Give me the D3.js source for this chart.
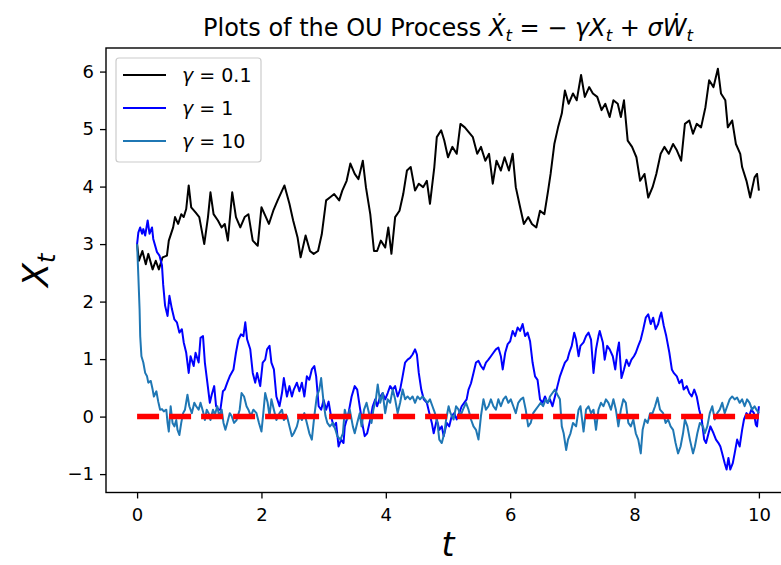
<!DOCTYPE html>
<html>
<head>
<meta charset="utf-8">
<script src="https://cdn.jsdelivr.net/npm/d3@7"></script>
<style>
  html, body { margin: 0; padding: 0; background: #fff; }
  text { font-family: "DejaVu Sans", sans-serif; }
</style>
</head>
<body>
<svg id="chart" width="781" height="565"></svg>
<script>
// Sample paths of the Ornstein–Uhlenbeck process, one per damping rate, as [t, X_t].
const pathGamma01 = [
  [0,3.0],[0.03,2.71],[0.085,2.88],[0.14,2.65],[0.18,2.83],[0.25,2.56],[0.3,2.71],[0.35,2.56],[0.41,2.77],[0.48,2.8],
  [0.51,3.06],[0.58,3.29],[0.61,3.47],[0.66,3.35],[0.71,3.52],[0.75,3.47],[0.79,3.61],[0.83,4.02],[0.87,3.64],[0.94,3.55],
  [1.0,3.47],[1.08,3.0],[1.14,3.47],[1.18,3.9],[1.23,3.52],[1.3,3.41],[1.36,3.29],[1.41,3.35],[1.46,3.06],[1.53,3.9],
  [1.59,3.47],[1.66,3.29],[1.73,3.47],[1.79,3.52],[1.86,3.06],[1.94,2.97],[2.0,3.64],[2.05,3.52],[2.12,3.35],[2.19,3.58],
  [2.26,3.76],[2.37,4.02],[2.45,3.7],[2.51,3.41],[2.58,3.12],[2.63,2.77],[2.71,3.15],[2.78,2.88],[2.84,2.83],[2.91,2.88],
  [2.97,3.17],[3.04,3.76],[3.1,3.81],[3.17,3.87],[3.25,3.76],[3.3,3.93],[3.37,4.1],[3.43,4.4],[3.5,4.22],[3.56,4.13],
  [3.63,4.45],[3.68,3.99],[3.75,3.52],[3.81,2.88],[3.86,2.88],[3.92,3.06],[3.99,2.94],[4.04,3.29],[4.09,2.83],[4.15,3.47],
  [4.22,3.58],[4.28,3.87],[4.34,4.28],[4.4,4.34],[4.47,3.93],[4.53,4.05],[4.6,3.99],[4.66,4.1],[4.71,3.7],[4.78,4.34],
  [4.82,4.86],[4.89,4.98],[4.94,4.8],[5.0,4.51],[5.07,4.69],[5.14,4.57],[5.2,5.09],[5.27,5.03],[5.33,4.95],[5.4,4.86],
  [5.47,4.57],[5.53,4.69],[5.6,4.45],[5.66,4.57],[5.72,4.05],[5.78,4.45],[5.85,4.28],[5.91,4.51],[5.98,4.28],[6.04,4.57],
  [6.09,3.99],[6.16,3.64],[6.22,3.35],[6.29,3.47],[6.35,3.35],[6.42,3.29],[6.48,3.58],[6.55,3.52],[6.61,3.93],[6.65,4.22],
  [6.71,4.74],[6.77,5.03],[6.83,5.27],[6.88,5.67],[6.94,5.44],[7.01,5.62],[7.07,5.5],[7.14,5.94],[7.2,5.56],[7.27,5.73],
  [7.33,5.62],[7.4,5.56],[7.47,5.33],[7.53,5.44],[7.6,5.21],[7.66,5.5],[7.73,5.44],[7.78,5.21],[7.83,5.5],[7.89,4.8],
  [7.96,4.69],[8.03,4.51],[8.09,4.1],[8.16,4.22],[8.22,3.81],[8.29,3.99],[8.35,4.22],[8.42,4.57],[8.48,4.69],[8.55,4.57],
  [8.62,4.74],[8.68,4.63],[8.75,4.45],[8.81,5.09],[8.88,5.15],[8.94,4.92],[9.0,5.09],[9.07,5.03],[9.14,5.38],[9.2,5.85],
  [9.27,5.73],[9.34,6.05],[9.39,5.62],[9.46,5.5],[9.5,5.03],[9.57,5.15],[9.63,4.74],[9.7,4.57],[9.73,4.34],[9.8,4.1],
  [9.86,3.81],[9.93,4.16],[9.97,4.22],[10.0,3.93]
];

const pathGamma1 = [
  [0,3.0],[0.02,3.2],[0.05,3.29],[0.08,3.18],[0.1,3.26],[0.13,3.15],[0.17,3.41],[0.2,3.18],[0.24,3.29],[0.26,3.09],
  [0.32,2.86],[0.36,2.8],[0.4,2.63],[0.42,2.29],[0.45,1.93],[0.49,1.75],[0.52,2.1],[0.56,1.87],[0.6,1.69],[0.64,1.64],
  [0.68,1.46],[0.72,1.52],[0.75,1.29],[0.79,1.11],[0.83,0.76],[0.86,1.05],[0.91,0.88],[0.94,1.11],[0.99,0.94],[1.02,1.37],
  [1.06,1.4],[1.09,0.94],[1.13,0.59],[1.17,0.24],[1.2,0.38],[1.24,0.53],[1.27,0.18],[1.31,0.12],[1.34,0.12],[1.38,0.44],
  [1.41,0.47],[1.45,0.59],[1.49,0.7],[1.55,0.82],[1.59,1.11],[1.63,1.34],[1.67,1.43],[1.71,1.4],[1.74,1.64],[1.77,1.34],
  [1.82,1.17],[1.86,0.76],[1.9,0.59],[1.93,0.76],[1.98,0.53],[2.02,0.94],[2.06,0.99],[2.09,1.17],[2.13,1.23],[2.16,0.94],
  [2.2,0.82],[2.24,0.35],[2.29,0.18],[2.33,0.41],[2.36,0.67],[2.41,0.35],[2.45,0.53],[2.49,0.35],[2.52,0.47],[2.57,0.59],
  [2.61,0.44],[2.65,0.59],[2.69,0.35],[2.73,0.7],[2.77,0.64],[2.81,0.82],[2.85,0.88],[2.88,0.7],[2.92,0.18],[2.96,0.12],
  [3.0,0.29],[3.04,0.12],[3.08,0.26],[3.12,0.0],[3.16,-0.17],[3.2,-0.11],[3.24,-0.52],[3.28,-0.4],[3.32,-0.46],[3.34,-0.17],
  [3.4,0.06],[3.45,0.35],[3.5,0.53],[3.54,0.47],[3.58,0.18],[3.63,-0.17],[3.66,-0.34],[3.7,-0.29],[3.75,-0.05],[3.79,0.18],
  [3.83,0.3],[3.86,0.18],[3.91,0.35],[3.95,0.41],[3.99,0.3],[4.03,0.41],[4.07,0.53],[4.11,0.47],[4.15,0.53],[4.19,0.35],
  [4.23,0.47],[4.27,0.7],[4.31,0.94],[4.35,0.99],[4.39,1.02],[4.43,1.08],[4.47,1.17],[4.5,1.08],[4.53,0.76],[4.57,0.47],
  [4.61,0.3],[4.66,0.24],[4.7,0.06],[4.74,-0.11],[4.77,-0.29],[4.82,-0.05],[4.86,-0.23],[4.9,-0.17],[4.93,-0.34],[4.98,-0.11],
  [5.02,-0.17],[5.06,0.01],[5.1,0.06],[5.14,-0.05],[5.18,0.06],[5.22,0.18],[5.26,0.24],[5.3,0.3],[5.33,0.47],[5.37,0.58],
  [5.41,0.76],[5.45,0.94],[5.49,0.97],[5.53,0.88],[5.57,0.82],[5.61,0.94],[5.65,0.99],[5.69,1.05],[5.73,1.11],[5.77,1.17],
  [5.81,1.2],[5.85,1.05],[5.88,0.82],[5.92,1.11],[5.96,1.26],[6.0,1.31],[6.04,1.49],[6.08,1.4],[6.12,1.55],[6.16,1.49],
  [6.2,1.61],[6.24,1.4],[6.28,1.46],[6.32,1.31],[6.36,0.94],[6.4,0.7],[6.44,0.64],[6.48,0.3],[6.52,0.24],[6.56,0.35],
  [6.6,0.24],[6.64,0.3],[6.68,0.18],[6.72,0.35],[6.76,0.53],[6.8,0.7],[6.84,0.82],[6.88,0.94],[6.92,0.99],[6.95,1.11],
  [6.99,1.23],[7.03,1.46],[7.06,1.34],[7.1,1.05],[7.13,1.23],[7.18,1.29],[7.22,1.4],[7.26,1.46],[7.3,1.34],[7.34,0.76],
  [7.38,1.17],[7.42,1.4],[7.44,1.49],[7.49,1.29],[7.52,0.99],[7.56,1.23],[7.6,1.17],[7.65,1.05],[7.69,0.82],[7.72,1.11],
  [7.75,1.29],[7.79,0.67],[7.83,0.82],[7.87,0.99],[7.91,0.88],[7.95,0.99],[7.99,1.05],[8.02,1.11],[8.06,1.23],[8.1,1.34],
  [8.14,1.52],[8.18,1.72],[8.22,1.78],[8.26,1.61],[8.3,1.72],[8.34,1.52],[8.38,1.61],[8.41,1.75],[8.43,1.81],[8.47,1.58],
  [8.51,1.4],[8.56,1.11],[8.6,0.82],[8.63,0.76],[8.68,0.7],[8.72,0.58],[8.76,0.64],[8.79,0.47],[8.84,0.53],[8.88,0.41],
  [8.92,0.35],[8.96,0.47],[9.0,0.35],[9.04,0.12],[9.08,-0.05],[9.12,-0.4],[9.15,-0.46],[9.19,-0.29],[9.22,-0.17],[9.27,-0.29],
  [9.31,-0.4],[9.35,-0.46],[9.38,-0.52],[9.41,-0.64],[9.45,-0.81],[9.48,-0.92],[9.51,-0.72],[9.54,-0.92],[9.58,-0.81],[9.61,-0.64],
  [9.65,-0.4],[9.69,-0.52],[9.73,-0.23],[9.76,-0.05],[9.8,0.06],[9.84,0.01],[9.88,0.12],[9.92,0.06],[9.95,-0.14],[9.97,-0.17],
  [10.0,0.18]
];

const pathGamma10 = [
  [0,3.0],[0.02,2.45],[0.04,1.87],[0.05,1.4],[0.07,1.05],[0.1,0.94],[0.13,0.76],[0.16,0.7],[0.18,0.59],[0.22,0.62],
  [0.25,0.47],[0.27,0.35],[0.31,0.44],[0.34,0.26],[0.37,0.12],[0.4,0.13],[0.43,0.09],[0.47,0.12],[0.49,-0.11],[0.51,-0.26],
  [0.54,0.18],[0.57,-0.11],[0.6,-0.17],[0.63,-0.06],[0.65,-0.23],[0.68,-0.32],[0.71,-0.11],[0.74,0.06],[0.77,0.12],[0.81,0.38],
  [0.84,0.18],[0.88,0.06],[0.92,0.24],[0.95,0.18],[0.99,0.12],[1.02,0.24],[1.06,0.09],[1.09,-0.06],[1.12,0.12],[1.15,0.06],
  [1.18,-0.06],[1.22,0.12],[1.25,0.03],[1.29,0.18],[1.32,0.01],[1.36,0.12],[1.39,-0.11],[1.42,-0.23],[1.45,-0.11],[1.49,0.06],
  [1.52,0.01],[1.56,-0.11],[1.6,-0.06],[1.65,0.12],[1.68,0.41],[1.72,0.35],[1.76,0.18],[1.79,0.12],[1.83,0.01],[1.87,0.12],
  [1.92,0.06],[1.96,-0.11],[2.0,-0.26],[2.03,0.06],[2.06,0.41],[2.1,0.24],[2.13,0.01],[2.16,0.3],[2.2,0.12],[2.24,-0.06],
  [2.29,0.06],[2.33,0.12],[2.36,-0.06],[2.41,0.01],[2.45,-0.17],[2.49,-0.34],[2.52,-0.29],[2.57,-0.17],[2.61,0.01],[2.65,-0.06],
  [2.69,0.06],[2.73,-0.11],[2.77,-0.29],[2.81,-0.4],[2.85,0.01],[2.89,0.35],[2.93,0.47],[2.96,0.67],[3.0,0.24],[3.03,0.01],
  [3.06,-0.11],[3.1,-0.17],[3.15,-0.11],[3.19,-0.23],[3.22,-0.34],[3.27,-0.4],[3.31,-0.29],[3.34,0.12],[3.38,-0.05],[3.42,0.12],
  [3.47,-0.17],[3.5,-0.29],[3.54,-0.11],[3.58,0.06],[3.61,-0.17],[3.65,0.12],[3.69,0.24],[3.73,0.06],[3.77,-0.11],[3.8,0.12],
  [3.84,0.3],[3.87,0.56],[3.91,0.24],[3.95,0.41],[3.99,0.06],[4.03,0.3],[4.07,0.24],[4.11,0.47],[4.15,0.3],[4.19,0.06],
  [4.23,0.24],[4.27,0.47],[4.31,0.3],[4.35,0.35],[4.39,0.3],[4.43,0.35],[4.47,0.24],[4.51,0.35],[4.55,0.3],[4.59,0.35],
  [4.63,0.3],[4.67,0.24],[4.71,0.3],[4.75,0.18],[4.79,0.06],[4.83,-0.11],[4.86,-0.4],[4.9,-0.46],[4.94,-0.29],[4.97,-0.05],
  [5.01,0.18],[5.04,0.06],[5.09,-0.05],[5.13,0.18],[5.17,0.12],[5.2,0.01],[5.24,0.12],[5.29,0.24],[5.33,0.12],[5.37,-0.05],
  [5.41,-0.17],[5.45,-0.23],[5.49,-0.4],[5.53,0.01],[5.57,0.3],[5.61,0.12],[5.65,0.18],[5.69,0.3],[5.73,0.18],[5.77,0.12],
  [5.81,0.3],[5.85,0.18],[5.89,0.3],[5.93,0.35],[5.97,0.24],[6.01,0.3],[6.05,0.18],[6.09,0.06],[6.13,0.24],[6.17,0.3],
  [6.21,0.33],[6.25,0.12],[6.29,-0.17],[6.33,-0.11],[6.37,0.06],[6.41,0.12],[6.45,0.18],[6.49,0.24],[6.53,0.18],[6.57,0.3],
  [6.61,0.24],[6.64,0.35],[6.68,0.41],[6.72,0.47],[6.76,0.38],[6.8,0.3],[6.83,-0.17],[6.86,-0.29],[6.9,-0.58],[6.93,-0.4],
  [6.97,-0.29],[7.01,-0.11],[7.06,-0.17],[7.1,0.12],[7.13,0.18],[7.18,-0.26],[7.22,0.12],[7.26,0.18],[7.3,0.06],[7.34,0.12],
  [7.38,-0.23],[7.42,0.12],[7.46,0.24],[7.5,0.18],[7.54,0.3],[7.58,0.24],[7.62,0.12],[7.66,0.3],[7.7,0.12],[7.74,-0.17],
  [7.78,0.12],[7.82,0.3],[7.86,0.24],[7.9,-0.11],[7.94,-0.17],[7.98,-0.05],[8.02,-0.29],[8.06,-0.4],[8.1,-0.64],[8.13,-0.23],
  [8.17,-0.05],[8.21,-0.11],[8.25,0.06],[8.29,0.06],[8.33,0.18],[8.37,0.33],[8.41,0.12],[8.46,0.06],[8.5,-0.11],[8.54,-0.05],
  [8.58,-0.17],[8.62,-0.23],[8.66,-0.46],[8.7,-0.64],[8.74,-0.52],[8.78,-0.29],[8.81,-0.05],[8.85,-0.17],[8.89,-0.4],[8.94,-0.64],
  [8.97,-0.52],[9.01,-0.29],[9.05,-0.11],[9.1,-0.17],[9.13,-0.29],[9.17,-0.17],[9.21,0.06],[9.25,0.18],[9.29,-0.05],[9.33,0.06],
  [9.37,0.12],[9.41,0.24],[9.45,0.06],[9.49,0.18],[9.53,0.3],[9.57,0.35],[9.61,0.3],[9.65,0.33],[9.69,0.24],[9.73,0.3],
  [9.77,0.18],[9.81,0.3],[9.85,0.24],[9.89,0.12],[9.93,0.18],[9.96,0.12],[10.0,0.06]
];

// Long-run mean of every path.
const meanLine = [[0, 0], [10, 0]];

const seriesNames = ["γ = 0.1", "γ = 1", "γ = 10"];
const seriesColors = ["#000000", "#0000ff", "#1f77b4"];
const xTicks = [0, 2, 4, 6, 8, 10];
const yTicks = [-1, 0, 1, 2, 3, 4, 5, 6];

const svg = d3.select("#chart");
const box = { left: 106, right: 790, top: 48, bottom: 492.5 };

const x = d3.scaleLinear().domain([-0.5, 10.5]).range([box.left, box.right]);
const y = d3.scaleLinear().domain([-1.32, 6.41]).range([box.bottom, box.top]);

const line = d3.line().x(d => x(d[0])).y(d => y(d[1]));

const plot = svg.append("g");
[pathGamma01, pathGamma1, pathGamma10].forEach((path, i) => {
  plot.append("path")
    .datum(path)
    .attr("d", line)
    .attr("fill", "none")
    .attr("stroke", seriesColors[i])
    .attr("stroke-width", 2)
    .attr("stroke-linejoin", "round");
});

plot.append("path")
  .datum(meanLine)
  .attr("d", line)
  .attr("fill", "none")
  .attr("stroke", "#ff0000")
  .attr("stroke-width", 5.5)
  .attr("stroke-dasharray", "22,10");

// Axes
const tickFont = "18px";
const xAxis = d3.axisBottom(x).tickValues(xTicks).tickSize(6).tickPadding(10)
  .tickFormat(d => d3.format("d")(d));
const yAxis = d3.axisLeft(y).tickValues(yTicks).tickSize(6).tickPadding(6)
  .tickFormat(d => d < 0 ? "\u2212" + Math.abs(d) : String(d));

const gx = svg.append("g").attr("transform", `translate(0,${box.bottom})`).call(xAxis);
const gy = svg.append("g").attr("transform", `translate(${box.left},0)`).call(yAxis);
[gx, gy].forEach(g => {
  g.select(".domain").remove();
  g.selectAll(".tick line").attr("stroke", "#000").attr("stroke-width", 1.3);
  g.selectAll(".tick text").attr("fill", "#000").style("font-size", tickFont)
    .style("font-family", "'DejaVu Sans', sans-serif");
});

// Frame
svg.append("rect")
  .attr("x", box.left).attr("y", box.top)
  .attr("width", box.right - box.left).attr("height", box.bottom - box.top)
  .attr("fill", "none").attr("stroke", "#000").attr("stroke-width", 1.4);

// Title with the SDE
const subSize = "16.5px";
const title = svg.append("text")
  .attr("x", (box.left + box.right) / 2).attr("y", 36)
  .attr("text-anchor", "middle")
  .style("font-size", "24px");
title.append("tspan").text("Plots of the OU Process ");
title.append("tspan").style("font-style", "italic").text("\u1E8A");
title.append("tspan").style("font-style", "italic").style("font-size", subSize).attr("dy", 5).text("t");
title.append("tspan").attr("dy", -5).text(" = \u2212 ");
title.append("tspan").style("font-style", "italic").text("γX");
title.append("tspan").style("font-style", "italic").style("font-size", subSize).attr("dy", 5).text("t");
title.append("tspan").attr("dy", -5).text(" + ");
title.append("tspan").style("font-style", "italic").text("σ\u1E86");
title.append("tspan").style("font-style", "italic").style("font-size", subSize).attr("dy", 5).text("t");

// Axis labels
svg.append("text")
  .attr("x", (box.left + box.right) / 2).attr("y", 556)
  .attr("text-anchor", "middle")
  .style("font-size", "33px").style("font-style", "italic")
  .text("t");

const yl = svg.append("text")
  .attr("transform", `translate(48,${(box.top + box.bottom) / 2}) rotate(-90)`)
  .attr("text-anchor", "middle")
  .style("font-size", "35px").style("font-style", "italic");
yl.append("tspan").text("X");
yl.append("tspan").style("font-size", "24px").attr("dy", 7).text("t");

// Legend
const lg = svg.append("g");
lg.append("rect")
  .attr("x", 116).attr("y", 58).attr("width", 145).attr("height", 104)
  .attr("rx", 3).attr("fill", "#fff").attr("fill-opacity", 0.8)
  .attr("stroke", "#cccccc").attr("stroke-width", 1.2);
seriesNames.forEach((name, i) => {
  const cy = 75 + i * 33;
  lg.append("line")
    .attr("x1", 123).attr("x2", 166).attr("y1", cy).attr("y2", cy)
    .attr("stroke", seriesColors[i]).attr("stroke-width", 2);
  const t = lg.append("text").attr("x", 182).attr("y", cy + 7).style("font-size", "19px");
  const parts = name.split(" = ");
  t.append("tspan").style("font-style", "italic").text(parts[0]);
  t.append("tspan").text(" = " + parts[1]);
});
</script>
</body>
</html>
